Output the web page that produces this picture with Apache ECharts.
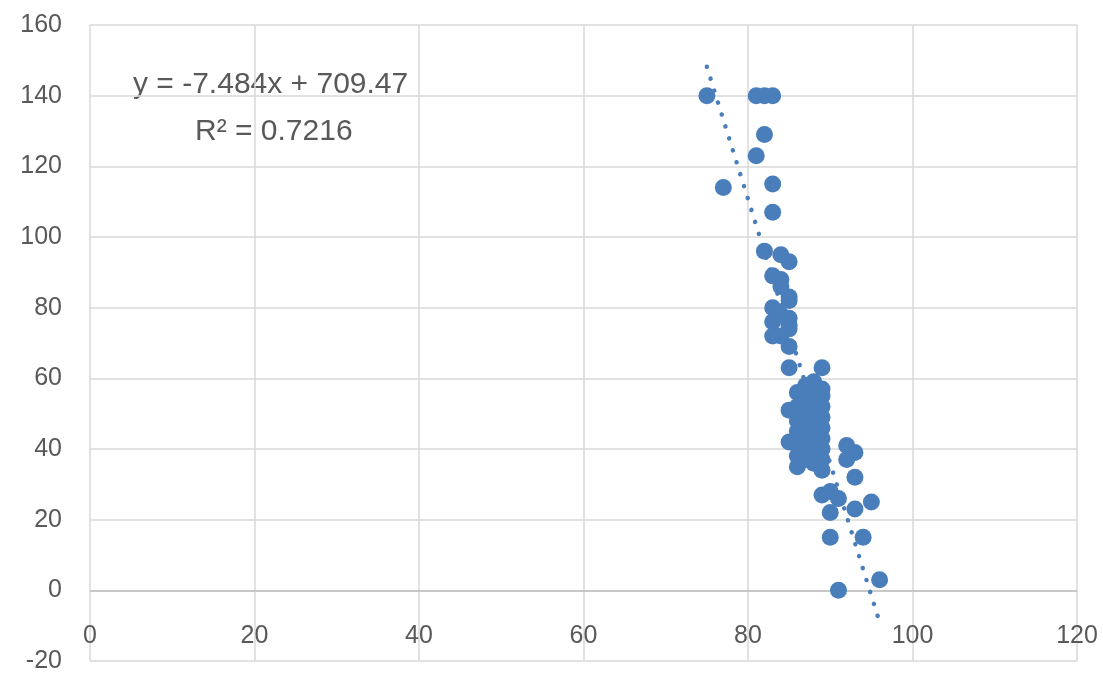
<!DOCTYPE html>
<html>
<head>
<meta charset="utf-8">
<script src="https://cdn.jsdelivr.net/npm/echarts@6/dist/echarts.min.js"></script>
<style>
html,body{margin:0;padding:0;background:#fff;}
#chart{width:1103px;height:697px;}
</style>
</head>
<body>
<div id="chart"></div>
<script>
// Scatter points: [x, y]
const pointsX = [75,77,81,82,83,82,81,83,83,82,84,85,83,84,84,85,85,83,84,85,83,85,83,84,85,85,85,89,
  85,85,
  86,86,86,86,86,86,86,
  87,87,87,87,87,87,87,
  88,88,88,88,88,88,88,88,88,
  89,89,89,89,89,89,89,89,89,
  92,93,92,93,89,90,91,95,90,93,90,94,96,91];
const pointsY = [140,114,140,140,140,129,123,115,107,96,95,93,89,88,86,83,82,80,78,77,76,75,72,72,74,69,63,63,
  51,42,
  56,52,48,45,41,38,35,
  58,54,50,47,44,40,37,
  59,56,53,50,47,44,41,38,36,
  57,55,52,49,46,43,40,37,34,
  41,39,37,32,27,28,26,25,22,23,15,15,3,0];
// Trendline endpoints
const trendX = [75, 96.2];
const trendY = [148.2, -10.5];
const equationText = 'y = -7.484x + 709.47';
const r2Text = 'R² = 0.7216';
const xTicks = {min: 0, max: 120, interval: 20};
const yTicks = {min: -20, max: 160, interval: 20};
const zeroLine = 0;

const points = pointsX.map((x, i) => [x, pointsY[i]]);
const trend = trendX.map((x, i) => [x, trendY[i]]);

const textColor = '#595959';
const gridColor = '#d9d9d9';
const blue = '#4a7ebb';
const font = '"Liberation Sans", Arial, sans-serif';

const chart = echarts.init(document.getElementById('chart'));
chart.setOption({
  backgroundColor: '#fff',
  animation: false,
  grid: {left: 90, right: 26, top: 25, bottom: 36, containLabel: false, outerBoundsMode: 'none'},
  xAxis: {
    type: 'value', min: xTicks.min, max: xTicks.max, interval: xTicks.interval,
    axisLine: {show: false, onZero: false},
    axisTick: {show: false},
    axisLabel: {color: textColor, fontSize: 25, fontFamily: font, margin: -37},
    splitLine: {show: true, lineStyle: {color: gridColor, width: 1.5}}
  },
  yAxis: {
    type: 'value', min: yTicks.min, max: yTicks.max, interval: yTicks.interval,
    axisLine: {show: false, onZero: false},
    axisTick: {show: false},
    axisLabel: {color: textColor, fontSize: 25, fontFamily: font, margin: 28},
    splitLine: {show: true, lineStyle: {color: gridColor, width: 1.5}}
  },
  graphic: [
    {type: 'text', left: 133, top: 70, style: {text: equationText, fill: textColor, font: '30px ' + font}},
    {type: 'text', left: 195, top: 117, style: {text: r2Text, fill: textColor, font: '30px ' + font}}
  ],
  series: [
    {
      type: 'scatter', data: points, symbolSize: 17,
      itemStyle: {color: blue, opacity: 1}, z: 2,
      markLine: {
        silent: true, symbol: 'none', label: {show: false},
        lineStyle: {color: '#bfbfbf', width: 1.5, type: 'solid'},
        data: [{yAxis: zeroLine}],
        z: 1
      }
    },
    {
      type: 'line', data: trend, showSymbol: false, symbol: 'none',
      lineStyle: {color: blue, width: 4.5, type: [0.1, 12.4], cap: 'round'},
      z: 3, silent: true
    }
  ]
});
</script>
</body>
</html>
